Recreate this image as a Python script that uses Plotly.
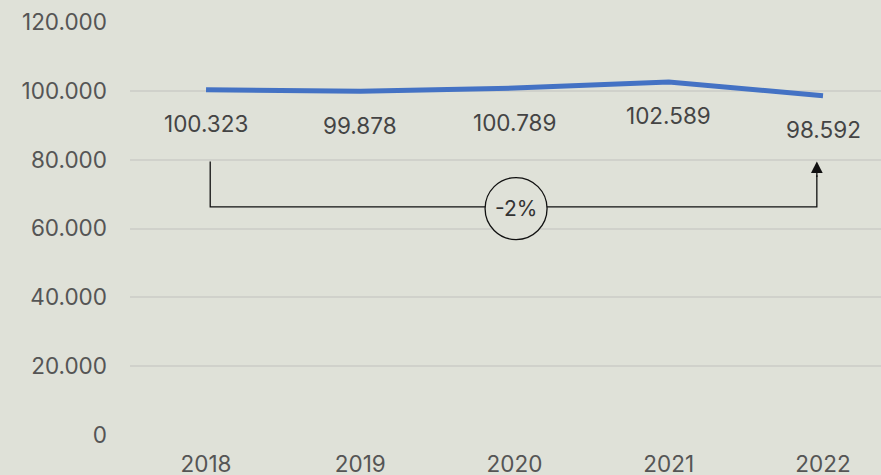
import plotly.graph_objects as go

years = ["2018", "2019", "2020", "2021", "2022"]
values = [100323, 99878, 100789, 102589, 98592]
y_ticks = [0, 20000, 40000, 60000, 80000, 100000, 120000]

BG = "#dfe1d8"
LINE = "#4472c4"
FONT = "Inter, Lato, sans-serif"

def fmt(v):
    return f"{v:,}".replace(",", ".")

xs = list(range(len(years)))
fig = go.Figure()
fig.add_trace(go.Scatter(
    x=xs, y=values, mode="lines",
    line=dict(color=LINE, width=5),
    hoverinfo="skip", cliponaxis=False,
))
for x, v in zip(xs, values):
    fig.add_annotation(x=x, y=v, xref="x", yref="y", text=fmt(v), showarrow=False,
                       yshift=-34, yanchor="middle",
                       font=dict(size=22.5, color="#444444", family=FONT))

# change bracket
first, last = values[0], values[-1]
pct = round((last / first - 1) * 100)
top = 79500
low = 66300
bx0 = xs[0] + 0.027
bx1 = xs[-1] - 0.04
fig.add_shape(type="path",
              path=f"M {bx0},{top} L {bx0},{low} L {bx1},{low} L {bx1},{top-4000}",
              line=dict(color="#111111", width=1.3), xref="x", yref="y")
fig.add_annotation(x=bx1, y=top, ax=bx1, ay=top - 5000, xref="x", yref="y",
                   axref="x", ayref="y", showarrow=True, arrowhead=2, arrowsize=1.8,
                   arrowwidth=1.3, arrowcolor="#111111", text="")
mid = (xs[0] + xs[-1]) / 2 + 0.01
fig.add_shape(type="circle", xref="x", yref="y", xsizemode="pixel", ysizemode="pixel",
              xanchor=mid, yanchor=low - 500, x0=-31, x1=31, y0=-31, y1=31,
              fillcolor=BG, line=dict(color="#111111", width=1.3), layer="above")
fig.add_annotation(x=mid, y=low - 500, xref="x", yref="y", text=f"{pct}%", showarrow=False,
                   font=dict(size=21, color="#333333", family=FONT))

fig.update_layout(
    width=881, height=475,
    margin=dict(l=130, r=0, t=22, b=40, autoexpand=False),
    paper_bgcolor=BG, plot_bgcolor=BG,
    showlegend=False,
    font=dict(family=FONT, color="#555555", size=22),
    xaxis=dict(range=[-0.493, 4.376], tickvals=xs, ticktext=years, showgrid=False,
               zeroline=False, showline=False, ticks="", ticklabelstandoff=13,
               automargin=False, tickfont=dict(size=22.5, color="#555555")),
    yaxis=dict(range=[0, 120000], tickvals=y_ticks, ticktext=[fmt(v) for v in y_ticks],
               showgrid=True, gridcolor="#d0d1cb", gridwidth=2, zeroline=False,
               showline=False, ticks="", ticklabelstandoff=22, automargin=False,
               tickfont=dict(size=22.5, color="#555555")),
)
fig.write_html("out.html", config={"displayModeBar": False},
               post_script="document.body.style.margin='0';document.body.style.background='%s';" % BG)
